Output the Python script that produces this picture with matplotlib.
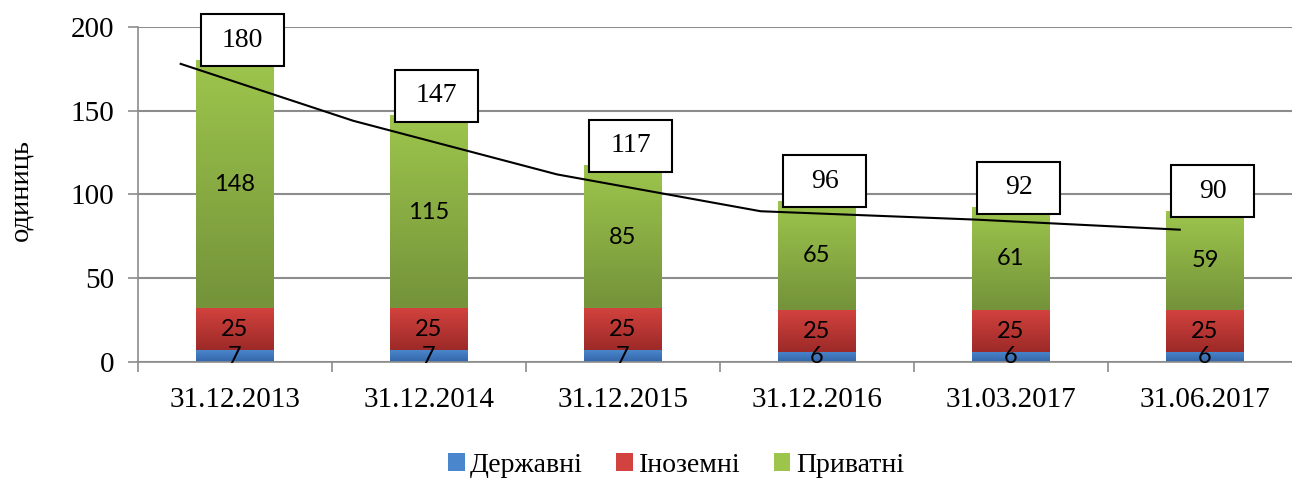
import numpy as np
import matplotlib.pyplot as plt
from matplotlib.colors import LinearSegmentedColormap
from matplotlib.patches import Rectangle, Patch

dates = ["31.12.2013", "31.12.2014", "31.12.2015", "31.12.2016", "31.03.2017", "31.06.2017"]
derzh = [7, 7, 7, 6, 6, 6]
inozem = [25, 25, 25, 25, 25, 25]
pryvat = [148, 115, 85, 65, 61, 59]
totals = [180, 147, 117, 96, 92, 90]

# hand-drawn trend line (positions, in category units)
trend_x = [-0.28, 0.61, 1.66, 2.71, 3.82, 4.87]
trend_y = [178, 144, 112, 90, 85, 79]

series = [
    ("Державні", derzh, "#3465a8", "#4a86cc"),
    ("Іноземні", inozem, "#9c2a28", "#d2423e"),
    ("Приватні", pryvat, "#74933a", "#9dc54c"),
]

serif = "Liberation Serif"
fig = plt.figure(figsize=(12.92, 4.78), dpi=100)
ax = fig.add_axes([0.1068, 0.2427, 0.9009, 0.7008])

x = np.arange(len(dates))
w = 0.4
grad = np.linspace(0, 1, 64).reshape(-1, 1)
bottom = np.zeros(len(dates))
for name, vals, c_bot, c_top in series:
    cmap = LinearSegmentedColormap.from_list(name, [c_bot, c_top])
    for i, v in enumerate(vals):
        ax.imshow(grad, extent=[x[i] - w / 2, x[i] + w / 2, bottom[i], bottom[i] + v],
                  origin="lower", aspect="auto", cmap=cmap, zorder=2)
        ax.text(x[i], bottom[i] + v / 2, str(v), ha="center", va="center",
                fontsize=17, family="Lato", zorder=4)
    bottom += np.array(vals)

ax.plot(trend_x, trend_y, color="black", lw=1.5, zorder=3)

for i, t in enumerate(totals):
    ax.add_patch(Rectangle((x[i] + 0.04 - 0.215, t - 3.5), 0.43, 31, facecolor="white",
                           edgecolor="black", lw=1.5, zorder=5, clip_on=False))
    ax.text(x[i] + 0.04, t - 3.5 + 15.5, str(t), ha="center", va="center",
            fontsize=20, family=serif, zorder=6)

ax.set_xlim(-0.5, len(dates) - 0.5)
ax.set_ylim(0, 200)
ax.set_yticks([0, 50, 100, 150, 200])
ax.set_xticks(x)
ax.set_xticklabels(dates, fontsize=21, family=serif)
ax.set_xticks(np.arange(-0.5, len(dates), 1), minor=True)
ax.tick_params(axis="x", which="major", length=0, pad=18)
ax.tick_params(axis="x", which="minor", length=7, width=1.2, color="#8c8c8c", direction="out")
ax.tick_params(axis="y", length=7, width=1.2, color="#8c8c8c", labelsize=21, pad=10)
for lab in ax.get_yticklabels():
    lab.set_family(serif)

ax.grid(axis="y", color="#8c8c8c", lw=1.5, zorder=0)
ax.set_axisbelow(True)
for s in ["top", "right"]:
    ax.spines[s].set_visible(False)
for s in ["left", "bottom"]:
    ax.spines[s].set_color("#8c8c8c")
    ax.spines[s].set_linewidth(1.2)

fig.text(21 / 1292, 1 - 190 / 478, "одиниць", rotation=90, ha="center", va="center",
         fontsize=20.5, family=serif)

handles = [Patch(facecolor=c_top, edgecolor="none") for _, _, _, c_top in series]
fig.legend(handles, [s[0] for s in series], loc="center", ncol=3,
           bbox_to_anchor=(676 / 1292, 1 - 465 / 478), frameon=False,
           prop={"family": serif, "size": 20}, handlelength=0.6, handleheight=0.6,
           handletextpad=0.2, columnspacing=1.2)

fig.savefig("out.png", dpi=100)
